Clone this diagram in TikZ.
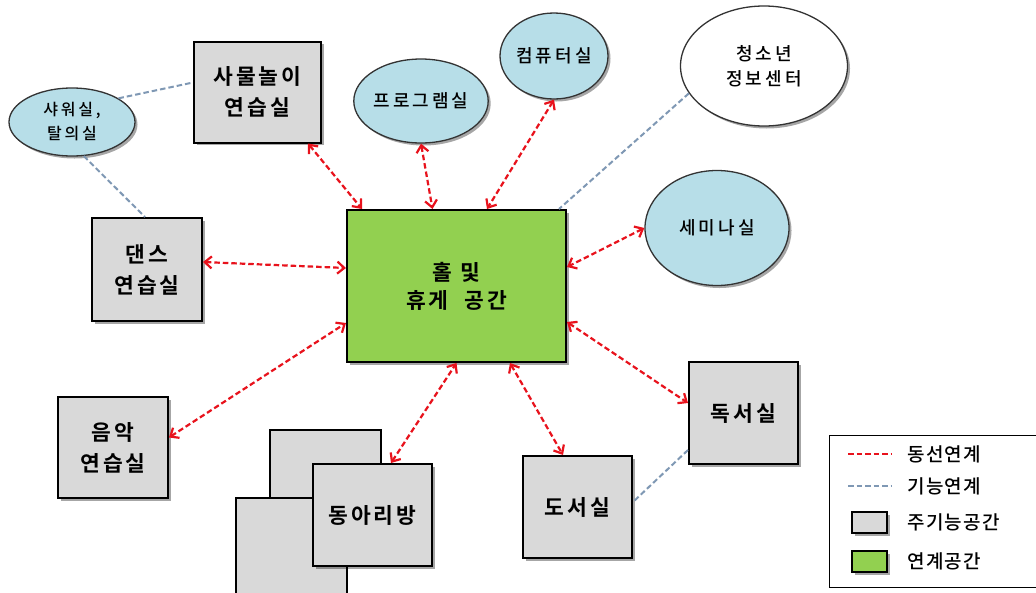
\documentclass[tikz,border=0pt]{standalone}
\usepackage{fontspec}
\setmainfont{Noto Sans CJK KR}
\newfontfamily\krbold{Noto Sans CJK KR Bold}[LetterSpace=14]
\newfontfamily\krreg{Noto Sans CJK KR Medium}[LetterSpace=17]
\newfontfamily\krleg{Noto Sans CJK KR Medium}[LetterSpace=7]
\usetikzlibrary{arrows.meta,shadows,calc,shapes.geometric}
\definecolor{boxgray}{HTML}{D9D9D9}
\definecolor{hallgreen}{HTML}{92D050}
\definecolor{lightblue}{HTML}{B7DEE8}
\definecolor{flowred}{HTML}{E8121C}
\definecolor{funcblue}{HTML}{7F98B4}
\begin{document}
\begin{tikzpicture}[x=1pt,y=-1pt,
  shad/.style={drop shadow={shadow xshift=2.5pt,shadow yshift=-2.5pt,opacity=0.35,fill=black}},
  room/.style={draw=black, line width=2pt, fill=boxgray, shad, align=center, inner sep=0pt,
    font=\krbold\fontsize{21.5}{31}\selectfont},
  backroom/.style={draw=black, line width=1.6pt, fill=boxgray, inner sep=0pt},
  hall/.style={draw=black, line width=2pt, fill=hallgreen, shad, align=center, inner sep=0pt,
    font=\krbold\fontsize{21.5}{28}\selectfont},
  oval/.style={ellipse, draw=black!80, line width=1.3pt, fill=lightblue, shad, align=center, inner sep=0pt,
    font=\krreg\fontsize{18}{25}\selectfont},
  flow/.style={draw=flowred, line width=2.2pt, dash pattern=on 5.5pt off 3pt, {Straight Barb[length=7pt,width=12pt]}-{Straight Barb[length=7pt,width=12pt]}},
  func/.style={draw=funcblue, line width=2pt, dash pattern=on 5.5pt off 3pt},
  legtext/.style={anchor=west, inner sep=0pt, font=\krleg\fontsize{19}{20}\selectfont},
  legbox/.style={draw=black, line width=1.8pt, minimum width=35pt, minimum height=21pt, inner sep=0pt, shad}
]
\useasboundingbox (0,0) rectangle (1036,592);
\fill[white] (0,0) rectangle (1036,592);

% boxes
\node[room, minimum width=127pt, minimum height=101pt] (sam) at (257.5,92) {사물놀이\\연습실};
\node[room, minimum width=110pt, minimum height=103pt] (dance) at (147,269.5) {댄스\\연습실};
\node[room, minimum width=110pt, minimum height=101pt] (music) at (113,447.5) {음악\\연습실};
\node[hall, minimum width=219pt, minimum height=152pt] (hall) at (456.5,286) {홀 및\\휴게\ \ 공간};
\node[backroom, minimum width=111pt, minimum height=102pt] (club1) at (325.5,481) {};
\node[backroom, minimum width=111pt, minimum height=102pt] (club2) at (291.5,549) {};
\node[room, minimum width=119pt, minimum height=102pt] (club) at (372.5,515) {동아리방};
\node[room, minimum width=109pt, minimum height=102pt] (reading) at (743.5,413) {독서실};
\node[room, minimum width=109pt, minimum height=102pt] (library) at (577.5,507) {도서실};

% ellipses
\node[oval, minimum width=126pt, minimum height=68pt, font=\krreg\fontsize{16}{24}\selectfont] (shower) at (72,122) {샤워실,\\탈의실};
\node[oval, minimum width=124pt, minimum height=84pt] (program) at (421,101) {프로그램실};
\node[oval, minimum width=108pt, minimum height=86pt] (computer) at (554,56) {컴퓨터실};
\node[oval, fill=white, minimum width=167pt, minimum height=120pt] (youth) at (764,66) {청소년\\정보센터};
\node[oval, minimum width=144pt, minimum height=115pt] (seminar) at (717,228) {세미나실};

% functional links
\draw[func] (shower.27) -- ([yshift=9.5pt]sam.west);
\draw[func] (shower.-71) -- ([xshift=-2pt]dance.north);
\draw[func] (youth.200) -- ([xshift=-8pt]hall.north east);
\draw[func] ([yshift=-37pt]reading.west) -- ([yshift=5pt]library.east);

% flow links
\draw[flow] ([xshift=-14pt]sam.south east) -- ([xshift=16pt]hall.north west);
\draw[flow] (program.south) -- ([xshift=-24pt]hall.north);
\draw[flow] (computer.south) -- ([xshift=30.5pt]hall.north);
\draw[flow] (seminar.west) -- ([yshift=19pt]hall.east);
\draw[flow] ([yshift=7.5pt]dance.east) -- ([yshift=18pt]hall.west);
\draw[flow] ([yshift=10pt]music.east) -- ([yshift=-37pt]hall.west);
\draw[flow] ([xshift=18.5pt]club.north) -- (hall.south);
\draw[flow] ([xshift=53.5pt]hall.south) -- ([xshift=-14.5pt]library.north);
\draw[flow] ([yshift=-36pt]hall.east) -- ([yshift=10pt]reading.west);

% legend
\node[draw=black, line width=1pt, minimum width=211pt, minimum height=152pt, inner sep=0pt] (legend) at (934.5,511) {};
\coordinate (l1a) at (848,454); \coordinate (l1b) at (891,454);
\coordinate (l2a) at (848,486); \coordinate (l2b) at (891,486);
\draw[draw=flowred, line width=2.2pt, dash pattern=on 5.5pt off 3pt] (l1a) -- (l1b);
\draw[func] (l2a) -- (l2b);
\node[legbox, fill=boxgray] (lgray) at (869.5,522.5) {};
\node[legbox, fill=hallgreen] (lgreen) at (869.5,561.5) {};
\node[legtext] (t1) at (907,454) {동선연계};
\node[legtext] (t2) at (907,486) {기능연계};
\node[legtext] (t3) at (907,522.5) {주기능공간};
\node[legtext] (t4) at (907,561.5) {연계공간};
\end{tikzpicture}
\end{document}
